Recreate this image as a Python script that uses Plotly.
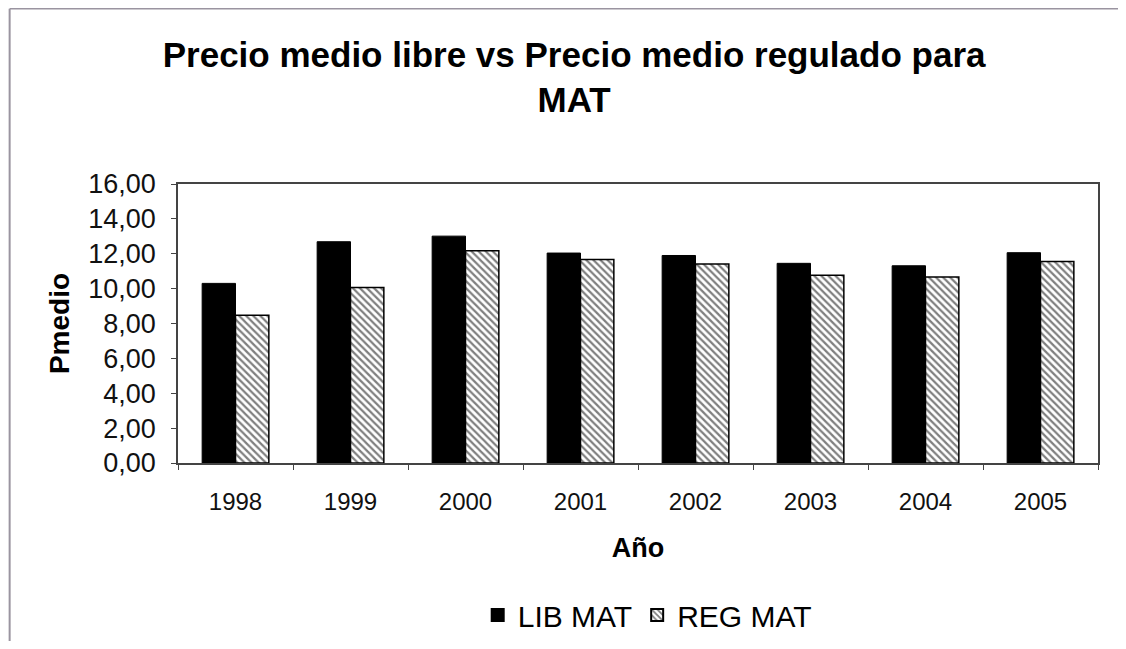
import plotly.graph_objects as go

# Precio medio por año (lectura aproximada del gráfico)
anios = ["1998", "1999", "2000", "2001", "2002", "2003", "2004", "2005"]
lib_mat = [10.30, 12.69, 13.01, 12.04, 11.90, 11.45, 11.31, 12.06]
reg_mat = [8.48, 10.07, 12.17, 11.67, 11.41, 10.76, 10.67, 11.56]

FONT = "Liberation Sans, Arial, sans-serif"

fig = go.Figure()
fig.add_trace(go.Bar(
    x=anios, y=lib_mat, name="LIB MAT",
    marker=dict(color="black", line=dict(color="black", width=1)),
))
fig.add_trace(go.Bar(
    x=anios, y=reg_mat, name="REG MAT",
    marker=dict(
        color="white",
        line=dict(color="black", width=1.5),
        pattern=dict(shape="\\", fgcolor="black", bgcolor="white",
                     size=5, solidity=0.45),
    ),
))

# la página html añade 8px de margen arriba/izquierda
fig.update_layout(
    width=1110, height=633,
    paper_bgcolor="white", plot_bgcolor="white",
    barmode="group", bargap=0.42, bargroupgap=0,
    separators=",.",
    font=dict(family=FONT, size=22, color="#111"),
    title=dict(
        text="<b>Precio medio libre vs Precio medio regulado para<br>MAT</b>",
        x=0.51, xanchor="center", y=0.907, yanchor="top",
        font=dict(family=FONT, size=35, color="black"),
    ),
    margin=dict(l=170, r=20, t=176, b=178),
    showlegend=True,
    legend=dict(
        orientation="h", x=0.51, xanchor="center",
        yref="container", y=0.0, yanchor="bottom",
        font=dict(family=FONT, size=30, color="black"),
        itemsizing="constant", traceorder="normal",
    ),
    shapes=[
        # marco exterior (solo arriba e izquierda visibles)
        dict(type="line", xref="paper", yref="paper",
             x0=-0.183, x1=1.05, y0=1.628, y1=1.628,
             line=dict(color="#9a94a0", width=1.5)),
        dict(type="line", xref="paper", yref="paper",
             x0=-0.183, x1=-0.183, y0=1.628, y1=-0.9,
             line=dict(color="#9a94a0", width=2)),
    ],
)

fig.update_xaxes(
    title=dict(text="<b>Año</b>", font=dict(family=FONT, size=27, color="black"),
               standoff=25),
    showline=True, linecolor="#444", linewidth=1.5, mirror=True,
    ticks="outside", tickson="boundaries", ticklen=5, tickcolor="#444",
    tickfont=dict(family=FONT, size=24, color="#111"),
    ticklabelstandoff=16,
    showgrid=False,
)
fig.update_yaxes(
    title=dict(text="<b>Pmedio</b>", font=dict(family=FONT, size=28, color="black"),
               standoff=10),
    range=[0, 16], dtick=2, tickformat=".2f",
    showline=True, linecolor="#444", linewidth=1.5, mirror=True,
    ticks="outside", ticklen=5, tickcolor="#444",
    tickfont=dict(family=FONT, size=27, color="#111"),
    ticklabelstandoff=10,
    showgrid=False, zeroline=False,
)

fig.write_html("out.html")
